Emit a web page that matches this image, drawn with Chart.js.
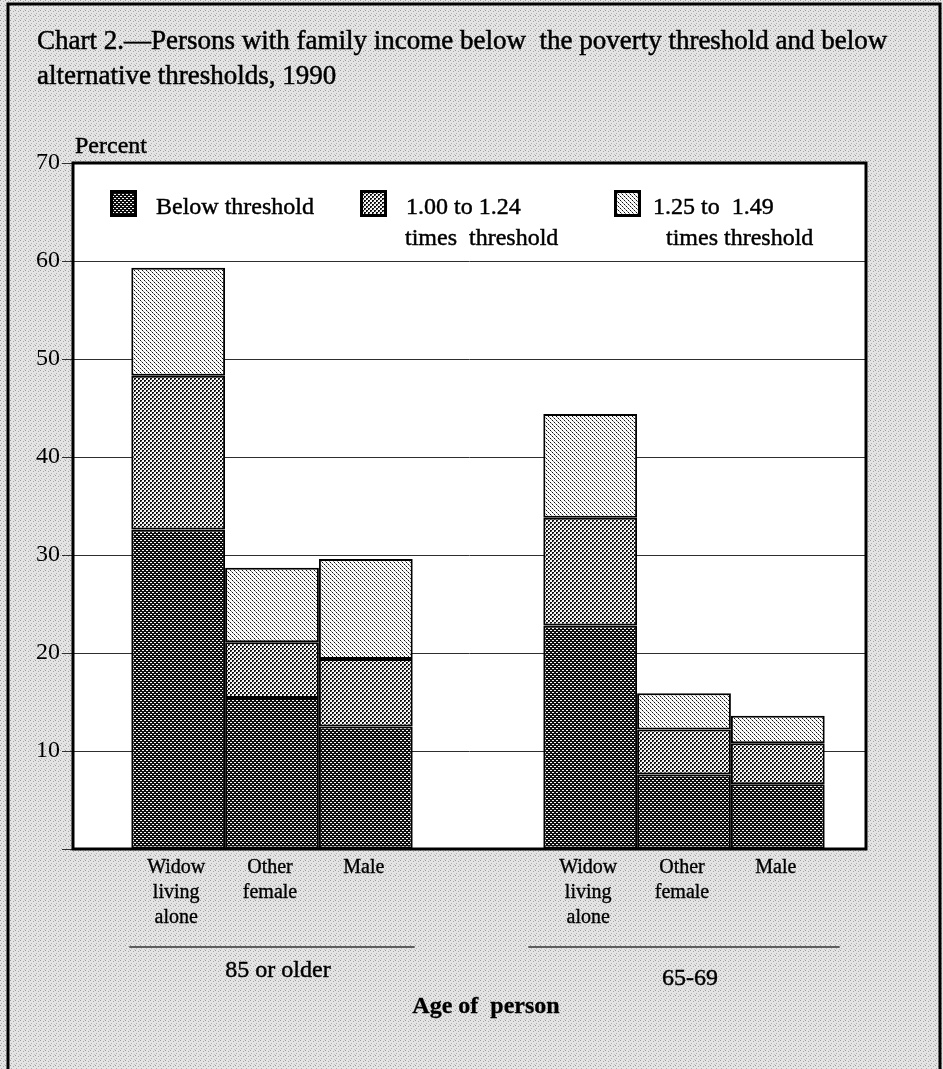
<!DOCTYPE html>
<html>
<head>
<meta charset="utf-8">
<script src="https://cdn.jsdelivr.net/npm/chart.js@4.4.1/dist/chart.umd.min.js"></script>
<style>
  html, body { margin: 0; padding: 0; background: #d6d6d6; }
  #wrap { position: relative; width: 943px; height: 1069px; }
  canvas { display: block; }
</style>
</head>
<body>
<div id="wrap"><canvas id="c" width="943" height="1069"></canvas></div>
<script>
// ---------------- DATA ----------------
const titleLines = [
  'Chart 2.\u2014Persons with family income below  the poverty threshold and below',
  'alternative thresholds, 1990'
];
const ageGroups = ['85 or older', '65-69'];
const personTypes = ['Widow living alone', 'Other female', 'Male'];
const personTypeLines = [['Widow', 'living', 'alone'], ['Other', 'female'], ['Male']];
const tierNames = ['Below threshold', '1.00 to 1.24 times threshold', '1.25 to 1.49 times threshold'];
const tierLegendLines = [['Below threshold'], ['1.00 to 1.24', 'times  threshold'], ['1.25 to  1.49', 'times threshold']];
// values per person type: [85 or older, 65-69]
const belowThreshold   = { widow: [32.6, 22.8], otherFemale: [15.4, 7.6], male: [12.5, 6.6] };
const times100to124    = { widow: [15.7, 11.0], otherFemale: [5.7, 4.6],  male: [6.9, 4.2] };
const times125to149    = { widow: [11.0, 10.6], otherFemale: [7.6, 3.7],  male: [10.2, 2.8] };
const personKeys = ['widow', 'otherFemale', 'male'];
const yTicks = [10, 20, 30, 40, 50, 60, 70];
const yAxisTitle = 'Percent';
const xAxisTitle = 'Age of  person';

// ---------------- PATTERNS ----------------
function makePattern(size, base, dots) {
  const c = document.createElement('canvas');
  c.width = size; c.height = size;
  const g = c.getContext('2d');
  g.fillStyle = base; g.fillRect(0, 0, size, size);
  dots.forEach(d => { g.fillStyle = d[2]; g.fillRect(d[0], d[1], 1, 1); });
  return g.createPattern(c, 'repeat');
}
const W = '#f6f6f6', K = '#0e0e0e';
const patDark = makePattern(4, K, [[0,0,W],[1,0,W],[2,2,W],[3,2,W]]);
const patMid = makePattern(4, W, [[0,0,K],[1,0,K],[0,1,K],[2,2,K],[3,2,K],[2,3,K],[1,1,'#777'],[3,3,'#777']]);
const patLight = makePattern(4, '#fbfbfb', [[0,0,K],[2,2,K],[1,1,'#888'],[3,3,'#888']]);
const patBg = makePattern(5, '#e4e4e4', [[0,0,'#9a9a9a'],[3,1,'#a6a6a6'],[1,3,'#b0b0b0'],[4,4,'#c4c4c4']]);
const tierFills = [patDark, patMid, patLight];
const tierData = [belowThreshold, times100to124, times125to149];

// ---------------- DATASETS ----------------
const datasets = [];
personKeys.forEach((pk, p) => {
  tierNames.forEach((tn, t) => {
    datasets.push({
      label: tn,
      data: tierData[t][pk],
      stack: personTypes[p],
      backgroundColor: tierFills[t],
      borderColor: '#000',
      borderWidth: 2,
      borderSkipped: false,
      barPercentage: 1.0,
      categoryPercentage: 0.683
    });
  });
});

const SERIF = '"Liberation Serif", "Times New Roman", serif';

function txt(ctx, s, x, y, sw) {
  ctx.fillText(s, x, y);
  ctx.lineWidth = sw || 0.45;
  ctx.strokeText(s, x, y);
}

// widen the category band a little beyond the plot box (left 66, right 890)
const xBand = {
  id: 'xBand',
  afterLayout(chart) {
    const x = chart.scales.x;
    const a = chart.chartArea;
    x.left = a.left - 7;
    x.right = a.right + 24;
    x.width = x.right - x.left;
    x.configure();
  }
};

const decor = {
  id: 'decor',
  beforeDraw(chart) {
    const ctx = chart.ctx;
    const a = chart.chartArea;
    ctx.save();
    ctx.fillStyle = patBg;
    ctx.fillRect(0, 0, chart.width, chart.height);
    ctx.strokeStyle = '#000';
    ctx.lineWidth = 3;
    ctx.beginPath();
    ctx.moveTo(8, chart.height + 5);
    ctx.lineTo(8, 4);
    ctx.lineTo(940, 4);
    ctx.lineTo(940, chart.height + 5);
    ctx.stroke();
    ctx.fillStyle = '#ffffff';
    ctx.fillRect(a.left, a.top, a.right - a.left, a.bottom - a.top);
    ctx.restore();
  },
  afterDatasetsDraw(chart) {
    const ctx = chart.ctx;
    const a = chart.chartArea;
    ctx.save();
    ctx.strokeStyle = '#000';
    ctx.lineWidth = 3;
    ctx.strokeRect(a.left, a.top, a.right - a.left, a.bottom - a.top);
    ctx.restore();
  },
  afterDraw(chart) {
    const ctx = chart.ctx;
    const a = chart.chartArea;
    ctx.save();
    ctx.fillStyle = '#000';
    ctx.strokeStyle = '#000';
    ctx.textBaseline = 'alphabetic';
    ctx.textAlign = 'left';
    // title
    ctx.font = '27px ' + SERIF;
    txt(ctx, titleLines[0], 37, 49, 0.5);
    txt(ctx, titleLines[1], 37, 84, 0.5);
    // y axis title
    ctx.font = '24px ' + SERIF;
    txt(ctx, yAxisTitle, a.left + 2, 153);

    // legend
    const legendX = [110, 360, 614];
    const boxTop = 190, boxSize = 27;
    tierLegendLines.forEach((lines, t) => {
      const bx = legendX[t];
      ctx.fillStyle = tierFills[t];
      ctx.fillRect(bx, boxTop, boxSize, boxSize);
      ctx.strokeStyle = '#000';
      ctx.lineWidth = 3;
      ctx.strokeRect(bx + 1.5, boxTop + 1.5, boxSize - 3, boxSize - 3);
      ctx.fillStyle = '#000';
      ctx.font = '24px ' + SERIF;
      ctx.textAlign = 'left';
      const tx = [bx + 46, bx + 46, bx + 39][t];
      txt(ctx, lines[0], tx, 214);
      if (lines[1]) txt(ctx, lines[1], [0, bx + 45, bx + 52][t], 245);
    });

    // category sublabels beneath bars
    ctx.font = '20px ' + SERIF;
    ctx.textAlign = 'center';
    const groupExt = [];
    ageGroups.forEach((g, gi) => {
      let minX = Infinity, maxX = -Infinity;
      personKeys.forEach((pk, p) => {
        const el = chart.getDatasetMeta(p * 3).data[gi];
        minX = Math.min(minX, el.x - el.width / 2);
        maxX = Math.max(maxX, el.x + el.width / 2);
        personTypeLines[p].forEach((ln, li) => {
          txt(ctx, ln, el.x - 2, a.bottom + 24 + li * 25, 0.35);
        });
      });
      groupExt.push([minX, maxX]);
    });
    // group lines and labels
    groupExt.forEach((ext, gi) => {
      const pad = gi === 0 ? 2 : 15;
      ctx.strokeStyle = '#333';
      ctx.lineWidth = 1.3;
      ctx.beginPath();
      ctx.moveTo(ext[0] - pad, 947);
      ctx.lineTo(ext[1] + pad, 947);
      ctx.stroke();
      ctx.strokeStyle = '#000';
      ctx.font = '24px ' + SERIF;
      txt(ctx, ageGroups[gi], (ext[0] + ext[1]) / 2 + 6, gi === 0 ? 977 : 985);
    });
    ctx.font = 'bold 24px ' + SERIF;
    txt(ctx, xAxisTitle, 486, 1013, 0.3);
    ctx.restore();
  }
};

new Chart(document.getElementById('c'), {
  type: 'bar',
  data: { labels: ageGroups, datasets: datasets },
  options: {
    responsive: false,
    animation: false,
    layout: { padding: { top: 163, right: 77, bottom: 220, left: 0 } },
    plugins: { legend: { display: false }, tooltip: { enabled: false }, title: { display: false } },
    scales: {
      x: { stacked: true, display: false },
      y: {
        stacked: true,
        min: 0, max: 70,
        afterFit(scale) { scale.width = 73; },
        afterBuildTicks(scale) { scale.ticks = [0].concat(yTicks).map(v => ({ value: v })); },
        border: { display: false },
        grid: { color: '#2e2e2e', lineWidth: 1, tickLength: 11, drawTicks: true },
        ticks: {
          color: '#000',
          padding: 2,
          font: { family: SERIF, size: 24 },
          callback: (v) => (v === 0 ? '' : String(v))
        }
      }
    }
  },
  plugins: [xBand, decor]
});
</script>
</body>
</html>
